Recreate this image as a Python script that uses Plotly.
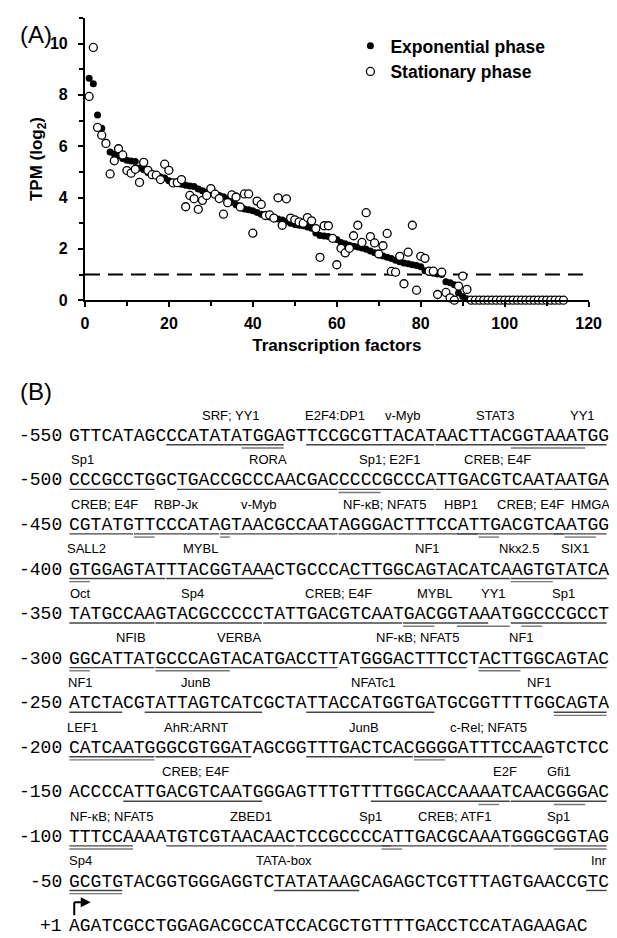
import plotly.graph_objects as go

# ---------------- Data (panel A) ----------------
tf_rank = list(range(1, 115))
exp_tpm = [8.65, 8.43, 7.22, 6.70, 6.15, 5.77, 5.70, 5.63, 5.52, 5.45,
           5.42, 5.40, 5.15, 5.08, 4.98, 4.92, 4.88, 4.80, 4.76, 4.65,
           4.60, 4.57, 4.52, 4.48, 4.45, 4.43, 4.33, 4.26, 4.22, 4.18,
           4.12, 4.08, 4.03, 3.95, 3.82, 3.72, 3.62, 3.55, 3.52, 3.48,
           3.42, 3.35, 3.30, 3.24, 3.20, 3.16, 3.12, 3.08, 3.00, 2.95,
           2.92, 2.90, 2.85, 2.80, 2.62, 2.52, 2.50, 2.48, 2.42, 2.36,
           2.25, 2.20, 2.14, 2.10, 2.07, 2.03, 1.98, 1.92, 1.85, 1.78,
           1.72, 1.67, 1.62, 1.56, 1.50, 1.45, 1.42, 1.38, 1.35, 1.30,
           1.15, 1.08, 1.05, 1.02, 1.00, 0.72, 0.68, 0.60, 0.28, 0.14, 0.06,
           0, 0, 0, 0, 0, 0, 0, 0, 0, 0, 0, 0, 0, 0, 0, 0, 0, 0, 0, 0, 0, 0, 0]
stat_tpm = [7.94, 9.85, 6.73, 6.43, 6.11, 4.92, 5.43, 5.90, 5.66, 5.05,
            4.95, 5.10, 4.59, 5.37, 5.06, 4.89, 4.87, 4.70, 5.30, 5.06,
            4.57, 4.58, 4.70, 3.64, 4.08, 3.95, 3.54, 3.89, 4.08, 4.35,
            4.13, 3.96, 3.35, 3.80, 4.10, 4.02, 3.63, 4.14, 4.14, 2.61,
            3.86, 3.73, 3.30, 3.32, 3.20, 3.99, 2.92, 3.95, 3.20, 3.13,
            3.05, 3.00, 3.22, 3.09, 2.79, 1.67, 2.90, 2.90, 2.41, 1.38,
            2.02, 1.84, 2.02, 2.51, 2.92, 2.25, 3.41, 2.48, 2.23, 1.80,
            2.12, 2.60, 1.12, 1.09, 1.71, 0.64, 1.87, 2.92, 0.39, 1.71,
            1.63, 1.13, 1.13, 0.22, 1.09, 0.30, 0.09, 0.00, 0.55, 0.94, 0.42,
            0, 0, 0, 0, 0, 0, 0, 0, 0, 0, 0, 0, 0, 0, 0, 0, 0, 0, 0, 0, 0, 0, 0]
threshold = 1
x_ticks = [0, 20, 40, 60, 80, 100, 120]
y_ticks = [0, 2, 4, 6, 8, 10]

# ---------------- Data (panel B) ----------------
row_numbers = ["-550", "-500", "-450", "-400", "-350", "-300", "-250",
               "-200", "-150", "-100", "-50", "+1"]
sequences = [
    "GTTCATAGCCCATATATGGAGTTCCGCGTTACATAACTTACGGTAAATGG",
    "CCCGCCTGGCTGACCGCCCAACGACCCCCGCCCATTGACGTCAATAATGA",
    "CGTATGTTCCCATAGTAACGCCAATAGGGACTTTCCATTGACGTCAATGG",
    "GTGGAGTATTTACGGTAAACTGCCCACTTGGCAGTACATCAAGTGTATCA",
    "TATGCCAAGTACGCCCCCTATTGACGTCAATGACGGTAAATGGCCCGCCT",
    "GGCATTATGCCCAGTACATGACCTTATGGGACTTTCCTACTTGGCAGTAC",
    "ATCTACGTATTAGTCATCGCTATTACCATGGTGATGCGGTTTTGGCAGTA",
    "CATCAATGGGCGTGGATAGCGGTTTGACTCACGGGGATTTCCAAGTCTCC",
    "ACCCCATTGACGTCAATGGGAGTTTGTTTTGGCACCAAAATCAACGGGAC",
    "TTTCCAAAATGTCGTAACAACTCCGCCCCATTGACGCAAATGGGCGGTAG",
    "GCGTGTACGGTGGGAGGTCTATATAAGCAGAGCTCGTTTAGTGAACCGTC",
    "AGATCGCCTGGAGACGCCATCCACGCTGTTTTGACCTCCATAGAAGAC",
]
site_labels = [
    [("SRF; YY1", 15.1), ("E2F4:DP1", 24.7), ("v-Myb", 31.0), ("STAT3", 39.6), ("YY1", 47.7)],
    [("Sp1", 1.3), ("RORA", 18.5), ("Sp1; E2F1", 29.8), ("CREB; E4F", 39.8)],
    [("CREB; E4F", 3.3), ("RBP-Jκ", 10.0), ("v-Myb", 17.6), ("NF-κB; NFAT5", 29.4),
     ("HBP1", 36.4), ("CREB; E4F", 42.9), ("HMGA", 48.5)],
    [("SALL2", 1.6), ("MYBL", 12.2), ("NF1", 33.3), ("Nkx2.5", 41.8), ("SIX1", 47.0)],
    [("Oct", 1.1), ("Sp4", 11.5), ("CREB; E4F", 25.0), ("MYBL", 34.0), ("YY1", 39.4), ("Sp1", 45.9)],
    [("NFIB", 5.8), ("VERBA", 15.8), ("NF-κB; NFAT5", 32.4), ("NF1", 42.0)],
    [("NF1", 1.1), ("JunB", 11.8), ("NFATc1", 28.3), ("NF1", 43.7)],
    [("LEF1", 1.3), ("AhR:ARNT", 11.8), ("JunB", 27.4), ("c-Rel; NFAT5", 39.0)],
    [("CREB; E4F", 11.8), ("E2F", 40.5), ("Gfi1", 45.5)],
    [("NF-κB; NFAT5", 4.0), ("ZBED1", 16.9), ("Sp1", 28.0), ("CREB; ATF1", 35.8), ("Sp1", 45.5)],
    [("Sp4", 1.1), ("TATA-box", 20.0), ("Inr", 49.2)],
    [],
]
# underlined site spans: (first base, last base, line level)
site_spans = [
    [(9, 19, 0), (16, 19, 1), (22, 33, 0), (34, 49, 0), (41, 47, 1)],
    [(0, 7, 0), (10, 24, 0), (25, 33, 0), (25, 28, 1), (34, 44, 0), (45, 49, 0)],
    [(0, 5, 0), (6, 13, 0), (6, 7, 1), (14, 24, 0), (14, 14, 1), (25, 37, 0),
     (36, 45, 0), (38, 39, 1), (45, 49, 0), (46, 48, 1)],
    [(0, 8, 0), (0, 1, 1), (9, 18, 0), (26, 40, 0), (41, 49, 0), (41, 44, 1)],
    [(0, 7, 0), (8, 17, 0), (18, 30, 0), (31, 38, 0), (31, 33, 1), (36, 40, 1), (41, 49, 0), (42, 43, 1)],
    [(0, 7, 0), (0, 1, 1), (8, 24, 0), (8, 14, 1), (27, 36, 0), (38, 49, 0), (38, 41, 1)],
    [(0, 4, 0), (7, 17, 0), (22, 33, 0), (45, 49, 0), (45, 49, 1)],
    [(0, 7, 0), (0, 7, 1), (8, 16, 0), (22, 31, 0), (32, 43, 0), (32, 34, 1)],
    [(5, 17, 0), (28, 40, 0), (38, 39, 1), (41, 49, 0), (45, 47, 1)],
    [(0, 5, 0), (0, 5, 1), (9, 20, 0), (21, 29, 0), (29, 40, 0), (29, 30, 1), (41, 49, 0), (45, 49, 1)],
    [(0, 4, 0), (0, 4, 1), (19, 26, 0), (48, 49, 0)],
    [],
]

# ---------------- Layout helpers ----------------
W, H = 617, 938
def px(x):
    return x / W
def py(y):
    return 1 - y / H

SANS = "Liberation Sans, Arial, sans-serif"
MONO = "Liberation Mono, Courier New, monospace"

fig = go.Figure()
fig.add_trace(go.Scatter(
    x=tf_rank, y=exp_tpm, mode="markers", name="Exponential phase",
    marker=dict(symbol="circle", size=7, color="black", line=dict(width=0)),
    cliponaxis=False))
fig.add_trace(go.Scatter(
    x=tf_rank, y=stat_tpm, mode="markers", name="Stationary phase",
    marker=dict(symbol="circle", size=8, color="white", line=dict(width=1.3, color="black")),
    cliponaxis=False))

shapes = [dict(type="line", xref="x", yref="y", x0=0, x1=120, y0=threshold, y1=threshold,
               line=dict(color="black", width=2, dash="15px,8px"), layer="below")]

axis_font = dict(family=SANS, size=16, color="black", weight="bold")
fig.update_layout(
    width=W, height=H, margin=dict(l=0, r=0, t=0, b=0),
    paper_bgcolor="white", plot_bgcolor="white",
    font=dict(family=SANS, color="black"),
    xaxis=dict(domain=[px(75), px(593)], range=[0, 120], tickvals=x_ticks,
               ticks="outside", ticklen=5, tickwidth=2, tickcolor="black",
               minor=dict(dtick=10, ticks="outside", ticklen=4, tickwidth=2, tickcolor="black"),
               showline=True, linecolor="black", linewidth=2, showgrid=False, zeroline=False,
               tickfont=axis_font, ticklabelstandoff=3,
               title=dict(text="Transcription factors", font=dict(family=SANS, size=17, weight="bold"),
                          standoff=8)),
    yaxis=dict(domain=[py(295), py(10)], range=[0, 11], tickvals=y_ticks,
               ticks="outside", ticklen=5, tickwidth=2, tickcolor="black",
               minor=dict(dtick=1, ticks="outside", ticklen=4, tickwidth=2, tickcolor="black"),
               showline=True, linecolor="black", linewidth=2, showgrid=False, zeroline=False,
               tickfont=axis_font, ticklabelstandoff=7,
               title=dict(text="TPM (log<sub>2</sub>)", font=dict(family=SANS, size=17, weight="bold"),
                          standoff=3)),
    legend=dict(x=px(348), y=py(20), xanchor="left", yanchor="top",
                font=dict(family=SANS, size=17.5, weight="bold"),
                bgcolor="rgba(0,0,0,0)", tracegroupgap=0, itemwidth=30),
    showlegend=True,
)

ann = []
def note(text, x, y, xanchor, font, **kw):
    d = dict(text=text, x=px(x), y=py(y), xref="paper", yref="paper",
             xanchor=xanchor, yanchor="middle", showarrow=False, font=font)
    d.update(kw)
    ann.append(d)

note("(A)", 6, 27, "left", dict(family=SANS, size=24))
note("(B)", 6, 387, "left", dict(family=SANS, size=24))

X0 = 58.5
FS = 18.0
CW = 11.07          # rendered advance of one base at this font size
ROW0 = 432.0
DY = 45.0
seq_font = dict(family=MONO, size=FS, color="black")
lab_font = dict(family=SANS, size=13, color="black")
for i, seq in enumerate(sequences):
    yc = ROW0 + DY * i
    note(row_numbers[i], 51.5, yc, "right", seq_font, borderpad=0, borderwidth=0)
    note(seq, X0, yc, "left", seq_font, borderpad=0, borderwidth=0)
    for lab, idx in site_labels[i]:
        note(lab, X0 + idx * CW, yc - 21, "center", lab_font, borderpad=0, borderwidth=0)
    for s, e, lev in site_spans[i]:
        yl = yc + 9 + 3.2 * lev
        shapes.append(dict(type="line", xref="paper", yref="paper",
                           x0=px(X0 + s * CW + 0.5), x1=px(X0 + (e + 1) * CW - 0.5),
                           y0=py(yl), y1=py(yl),
                           line=dict(color="#444444" if lev == 0 else "#777777", width=1.4)))

# transcription start arrow
yc_last = ROW0 + DY * (len(sequences) - 1)
shapes.append(dict(type="line", xref="paper", yref="paper", x0=px(64), x1=px(64),
                   y0=py(yc_last - 11), y1=py(yc_last - 24), line=dict(color="black", width=2)))
ann.append(dict(x=px(81), y=py(yc_last - 24), ax=-18, ay=0,
                xref="paper", yref="paper", axref="pixel", ayref="pixel",
                showarrow=True, arrowhead=2, arrowsize=1, arrowwidth=2, arrowcolor="black", text=""))

fig.update_layout(annotations=ann, shapes=shapes)
fig.write_html("out.html")
